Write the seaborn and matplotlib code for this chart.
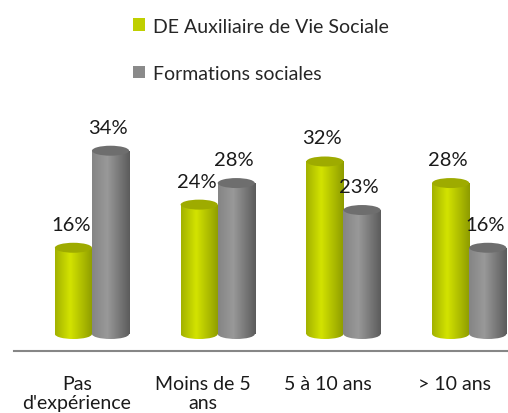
import numpy as np
import pandas as pd
import matplotlib
matplotlib.use("Agg")
import matplotlib.pyplot as plt
import seaborn as sns
from matplotlib.patches import Ellipse, Patch
from matplotlib.colors import LinearSegmentedColormap

# Data
categories = ["Pas\nd'expérience", "Moins de 5\nans", "5 à 10 ans", "> 10 ans"]
series = ["DE Auxiliaire de Vie Sociale", "Formations sociales"]
avs = [16, 24, 32, 28]
formations = [34, 28, 23, 16]

df = pd.DataFrame({
    "cat": categories * 2,
    "serie": [series[0]] * 4 + [series[1]] * 4,
    "val": avs + formations,
})

sns.set_style("white")
plt.rcParams["font.family"] = ["Lato", "DejaVu Sans"]

fig = plt.figure(figsize=(5.08, 4.14), dpi=100)
ax = fig.add_axes([14 / 508, 62 / 414, 503 / 508, 272 / 414])

colors = ["#bfcf00", "#8a8a8a"]
sns.barplot(data=df, x="cat", y="val", hue="serie", palette=colors,
            width=0.59, ax=ax, legend=False, zorder=2)

# cylinder shading
cmaps = [
    LinearSegmentedColormap.from_list("g", [(0, "#a3b200"), (0.4, "#d3e300"), (1, "#8e9c00")]),
    LinearSegmentedColormap.from_list("k", [(0, "#858585"), (0.4, "#999999"), (1, "#5c5c5c")]),
]
top_cols = ["#9eab00", "#6e6e6e"]
grad = np.linspace(0, 1, 80).reshape(1, -1)
ell_h = 1.85
shift = 0.12

for i, cont in enumerate(ax.containers):
    for p in cont.patches:
        p.set_x(p.get_x() + shift)
        x, w, h = p.get_x(), p.get_width(), p.get_height()
        p.set_edgecolor("none")
        im = ax.imshow(grad, cmap=cmaps[i], extent=[x, x + w, -ell_h, h],
                       aspect="auto", zorder=3, interpolation="bilinear")
        im.set_clip_path(p)
        bot = Ellipse((x + w / 2, 0), w, ell_h, facecolor="none", edgecolor="none", transform=ax.transData)
        ax.add_patch(bot)
        im2 = ax.imshow(grad, cmap=cmaps[i], extent=[x, x + w, -ell_h, h],
                        aspect="auto", zorder=3, interpolation="bilinear")
        im2.set_clip_path(bot)
        ax.add_patch(Ellipse((x + w / 2, h), w, ell_h, facecolor=top_cols[i],
                             edgecolor="none", zorder=4))
        ax.annotate(f"{int(h)}%", xy=(x + w / 2, h), xytext=(-2, 17),
                    textcoords="offset points", ha="center", va="center",
                    fontsize=14.5, color="#1a1a1a", zorder=5)

ax.set_xlim(-0.5, 3.5)
ax.set_ylim(-3.15, 47.3)
ax.set_yticks([])
ax.set_xticks([-0.5, 0.5, 1.5, 2.5, 3.5], ["", "", "", "", ""])
ax.set_xticks(range(4), categories, minor=True)
ax.tick_params(axis="x", which="major", length=5, width=1.5, color="#868686", direction="out")
ax.tick_params(axis="x", which="minor", length=0, pad=17, labelsize=14, labelcolor="#1a1a1a")
ax.set_xlabel("")
ax.set_ylabel("")
for s in ["top", "right", "left"]:
    ax.spines[s].set_visible(False)
ax.spines["bottom"].set_color("#868686")
ax.spines["bottom"].set_linewidth(1.5)

handles = [Patch(facecolor=c, edgecolor="none") for c in colors]
fig.legend(handles, series, loc="upper left", bbox_to_anchor=(115 / 508, 1 - 1 / 414),
           frameon=False, fontsize=14, handlelength=0.62, handleheight=0.62,
           handletextpad=0.45, labelspacing=1.56)

fig.savefig("out.png", dpi=100)
